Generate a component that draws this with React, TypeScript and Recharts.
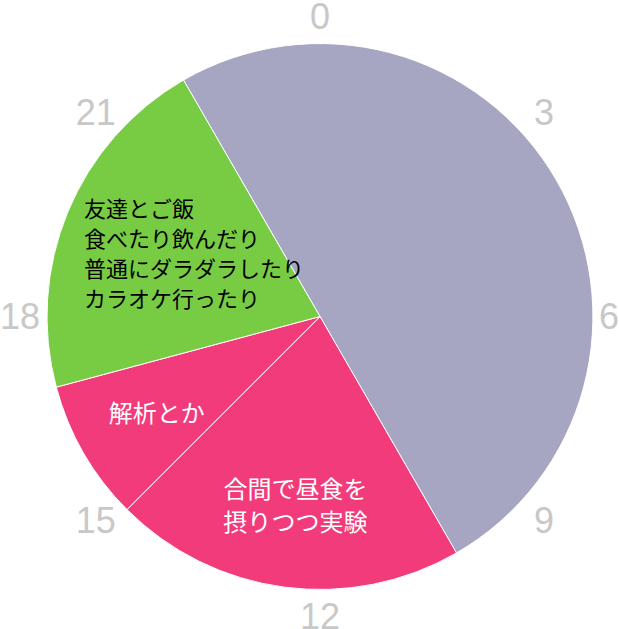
import React from 'react';
import { PieChart, Pie, Cell } from 'recharts';

// 一日の過ごし方 (22時から時計回り)
const activities = [
  '',
  '合間で昼食を\n摂りつつ実験',
  '解析とか',
  '友達とご飯\n食べたり飲んだり\n普通にダラダラしたり\nカラオケ行ったり',
];
const hours = [12, 5, 2, 5];
const colors = ['#a6a6c3', '#f23b7a', '#f23b7a', '#77cc44'];
const textColors = ['#ffffff', '#ffffff', '#ffffff', '#000000'];
const dayStart = 22;

// 時刻の目盛り
const hourTicks = [0, 3, 6, 9, 12, 15, 18, 21];
const tickSpan = 3;

const W = 619;
const H = 629;
const RADIAN = Math.PI / 180;

const data = activities.map((name, i) => ({ name, value: hours[i] }));
const tickData = hourTicks.map((h) => ({ name: String(h), value: tickSpan }));

const hourToAngle = (h: number) => 90 - h * 15;

const renderActivityLabel = (props: any) => {
  const { cx, cy, midAngle, outerRadius, index } = props;
  const text = activities[index];
  if (!text) return null;
  const lines = text.split('\n');
  const multi = lines.length > 2;
  const r = outerRadius * (multi ? 0.5 : 0.69);
  const lx = cx + r * Math.cos(-midAngle * RADIAN);
  const ly = cy + r * Math.sin(-midAngle * RADIAN);
  const fs = multi ? 22 : 24;
  const lh = multi ? 30 : 33;
  const maxLen = Math.max(...lines.map((l) => l.length));
  const x = multi ? lx - (maxLen * fs) / 2 : lx;
  const y0 = ly - ((lines.length - 1) * lh) / 2 - (multi ? 12 : 0);
  return (
    <text
      x={x}
      y={y0}
      fill={textColors[index]}
      fontSize={fs}
      fontFamily="'Noto Sans CJK JP', sans-serif"
      textAnchor={multi ? 'start' : 'middle'}
      dominantBaseline="central"
    >
      {lines.map((l, i) => (
        <tspan key={i} x={x} y={y0 + i * lh}>
          {l}
        </tspan>
      ))}
    </text>
  );
};

const renderTickLabel = (props: any) => {
  const { cx, cy, midAngle, outerRadius, index } = props;
  const r = outerRadius + 27;
  const c = Math.cos(-midAngle * RADIAN);
  const s = Math.sin(-midAngle * RADIAN);
  const diag = Math.abs(Math.sin(2 * midAngle * RADIAN));
  let x = cx + r * c + Math.sign(c) * diag * 12;
  const y = cy + r * s - Math.sign(s) * diag * 8;
  x = Math.min(Math.max(x, 18), W - 10);
  return (
    <text
      x={x}
      y={y}
      fill="#c8c8c8"
      fontSize={36}
      fontFamily="'Liberation Sans', Arial, sans-serif"
      textAnchor="middle"
      dominantBaseline="central"
    >
      {hourTicks[index]}
    </text>
  );
};

export default function App() {
  const start = hourToAngle(dayStart - 24);
  const tickStart = hourToAngle(-tickSpan / 2);
  return (
    <div style={{ position: 'absolute', left: 0, top: 0, background: '#fff' }}>
      <PieChart width={W} height={H} margin={{ top: 0, right: 0, bottom: 0, left: 0 }}>
        <Pie
          data={data}
          dataKey="value"
          cx={320}
          cy={316.5}
          outerRadius={273}
          startAngle={start}
          endAngle={start - 360}
          stroke="#ffffff"
          strokeWidth={1}
          label={renderActivityLabel}
          labelLine={false}
          isAnimationActive={false}
        >
          {data.map((d, i) => (
            <Cell key={i} fill={colors[i]} />
          ))}
        </Pie>
        <Pie
          data={tickData}
          dataKey="value"
          cx={320}
          cy={316.5}
          outerRadius={273}
          startAngle={tickStart}
          endAngle={tickStart - 360}
          fill="none"
          stroke="none"
          label={renderTickLabel}
          labelLine={false}
          isAnimationActive={false}
        />
      </PieChart>
    </div>
  );
}
